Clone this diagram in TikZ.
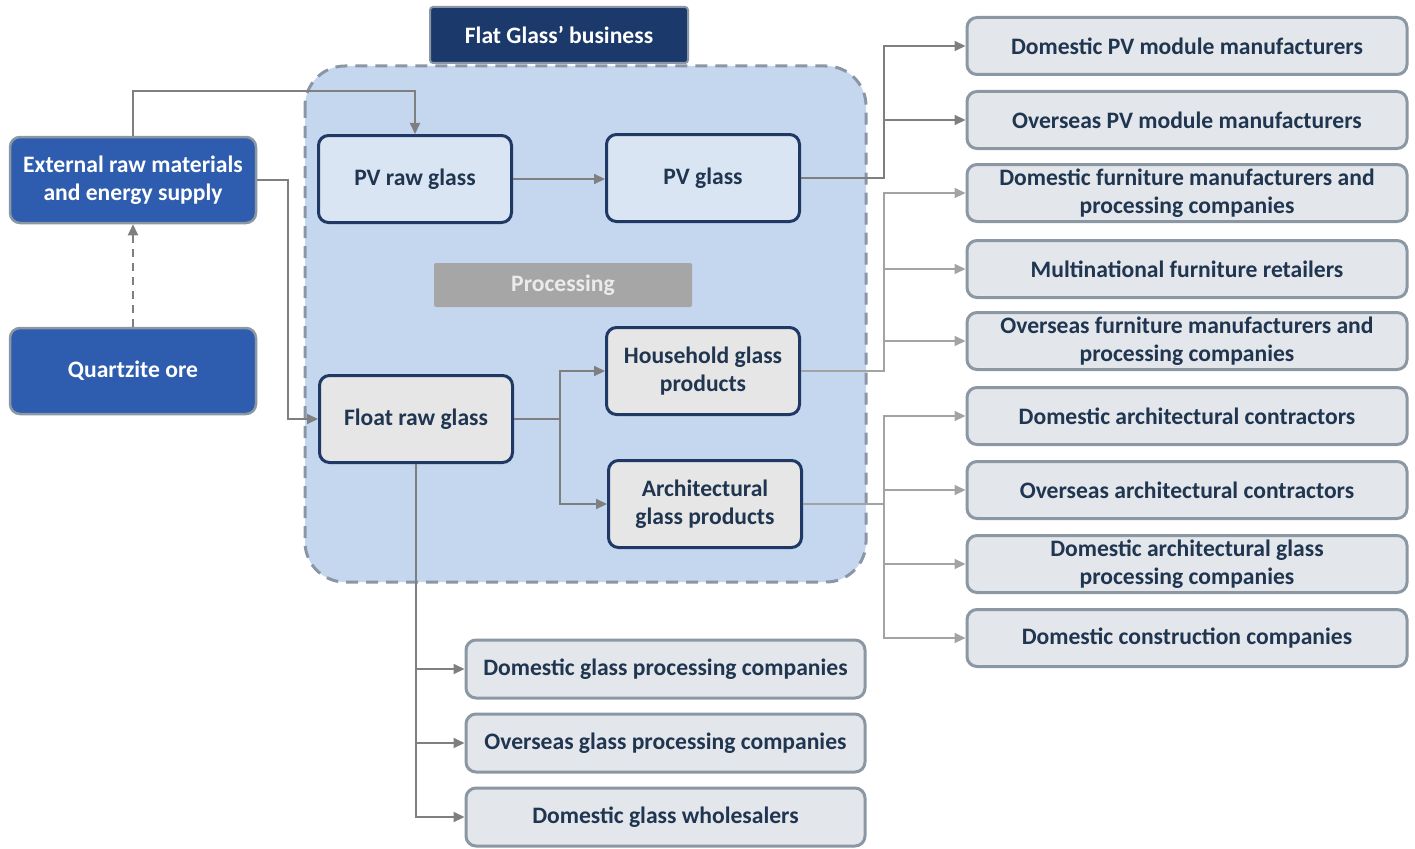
\documentclass[tikz,border=0pt]{standalone}
\usepackage{fontspec}
\setmainfont{Carlito}
\usetikzlibrary{arrows.meta}
\definecolor{navy}{HTML}{1F3864}
\definecolor{tabfill}{HTML}{1B3A6B}
\definecolor{midblue}{HTML}{2E5DAF}
\definecolor{contfill}{HTML}{C5D6EF}
\definecolor{contline}{HTML}{8A96A6}
\definecolor{pvfill}{HTML}{DAE5F3}
\definecolor{grayfill}{HTML}{E6E6E6}
\definecolor{custfill}{HTML}{E3E6EA}
\definecolor{custline}{HTML}{8C97A4}
\definecolor{darkln}{HTML}{7F7F7F}
\definecolor{lightln}{HTML}{A3A3A3}
\definecolor{procfill}{HTML}{A6A6A6}
\definecolor{txt}{HTML}{1F3550}
\begin{document}
\begin{tikzpicture}[x=1pt,y=-1pt,
  font=\fontsize{23.6}{28}\selectfont\bfseries,
  box/.style={rounded corners=10pt, align=center, text=txt, inner sep=0pt},
  inbox/.style={box, draw=navy, line width=3pt, minimum width=193pt, minimum height=87pt},
  pvbox/.style={inbox, fill=pvfill},
  flbox/.style={inbox, fill=grayfill},
  src/.style={box, fill=midblue, draw=custline, line width=2.5pt, text=white, minimum width=246pt, minimum height=86pt},
  cust/.style={box, fill=custfill, draw=custline, line width=3pt, minimum width=440pt, minimum height=57pt},
  bcust/.style={cust, minimum width=399pt, minimum height=58pt},
  conn/.style={draw=darkln, line width=2pt, -{Triangle[length=11pt,width=10pt]}},
  lconn/.style={conn, draw=lightln}
]
\useasboundingbox (0,0) rectangle (1415,848);
% container
\draw[fill=contfill, draw=contline, line width=3pt, dash pattern=on 12pt off 8pt, rounded corners=40pt] (305,66) rectangle (866,582);
\node[box, fill=tabfill, draw=contline, line width=2pt, rounded corners=3pt, text=white, minimum width=258pt, minimum height=56pt] (tab) at (559,35) {Flat Glass’ business};
% sources
\node[src] (ext) at (133,180) {External raw materials\\and energy supply};
\node[src] (quartz) at (133,371) {Quartzite ore};
% inner
\node[pvbox] (pvraw) at (415,179) {PV raw glass};
\node[pvbox] (pvglass) at (703,178) {PV glass};
\node[box, fill=procfill, text=white!92!black, rounded corners=2pt, minimum width=258pt, minimum height=44pt] (proc) at (563,285) {Processing};
\node[flbox] (float) at (416,419) {Float raw glass};
\node[flbox] (house) at (703,371) {Household glass\\products};
\node[flbox] (arch) at (705,504) {Architectural\\glass products};
% right customers
\node[cust] (c1) at (1187,46) {Domestic PV module manufacturers};
\node[cust] (c2) at (1187,120) {Overseas PV module manufacturers};
\node[cust] (c3) at (1187,193) {Domestic furniture manufacturers and\\processing companies};
\node[cust] (c4) at (1187,269) {Multinational furniture retailers};
\node[cust] (c5) at (1187,341) {Overseas furniture manufacturers and\\processing companies};
\node[cust] (c6) at (1187,416) {Domestic architectural contractors};
\node[cust] (c7) at (1187,490) {Overseas architectural contractors};
\node[cust] (c8) at (1187,564) {Domestic architectural glass\\processing companies};
\node[cust] (c9) at (1187,638) {Domestic construction companies};
% bottom customers
\node[bcust] (b1) at (665.5,669) {Domestic glass processing companies};
\node[bcust] (b2) at (665.5,743) {Overseas glass processing companies};
\node[bcust] (b3) at (665.5,817) {Domestic glass wholesalers};
% helper coordinates
\coordinate (t1) at (133,91);
\coordinate (e1) at (288,300);
\coordinate (jx) at (884,0);
\coordinate (fx) at (560,0);
% connectors
\draw[conn, dash pattern=on 8pt off 6pt] (quartz.north) -- (ext.south);
\draw[conn] (ext.north) -- (t1) -| (pvraw.north);
\draw[conn] (ext.east) -| (e1) |- (float.west);
\draw[conn] (pvraw.east) -- (pvraw.east -| pvglass.west);
\draw[conn] (pvglass.east) -- (pvglass.east -| jx) |- (c1.west);
\draw[conn] (pvglass.east -| jx) |- (c2.west);
\draw[lconn] (house.east) -- (house.east -| jx) |- (c3.west);
\draw[lconn] (house.east -| jx) |- (c4.west);
\draw[lconn] (house.east -| jx) |- (c5.west);
\draw[lconn] (arch.east) -- (arch.east -| jx) |- (c6.west);
\draw[lconn] (arch.east -| jx) |- (c7.west);
\draw[lconn] (arch.east -| jx) |- (c8.west);
\draw[lconn] (arch.east -| jx) |- (c9.west);
\draw[conn] (float.east) -- (float.east -| fx) |- (house.west);
\draw[conn] (float.east -| fx) |- (arch.west);
\draw[conn] (float.south) |- (b1.west);
\draw[conn] (float.south) |- (b2.west);
\draw[conn] (float.south) |- (b3.west);
\end{tikzpicture}
\end{document}
